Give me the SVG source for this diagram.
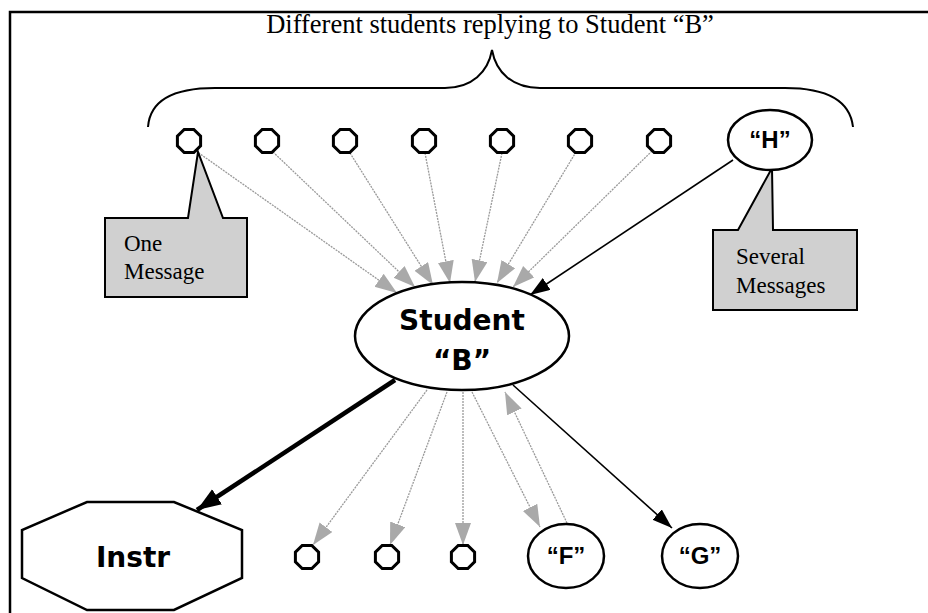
<svg xmlns="http://www.w3.org/2000/svg" width="928" height="613" viewBox="0 0 928 613">
  <style>
    .frame { fill: none; stroke: #000; stroke-width: 2.5; }
    .brace { fill: none; stroke: #000; stroke-width: 2; }
    .title { font-family: "Liberation Serif", "Times New Roman", serif; font-size: 26.5px; fill: #000; }
    .note { fill: #d0d0d0; stroke: #000; stroke-width: 2; }
    .note-text { font-family: "Liberation Serif", "Times New Roman", serif; font-size: 23px; fill: #000; }
    .dot { fill: #fff; stroke: #000; stroke-width: 3; }
    .oval { fill: #fff; stroke: #000; stroke-width: 2.5; }
    .big-label { font-family: "DejaVu Sans", Verdana, sans-serif; font-weight: bold; font-size: 28px; fill: #000; text-anchor: middle; }
    .small-label { font-family: "Liberation Sans", Arial, sans-serif; font-weight: bold; font-size: 24px; fill: #000; text-anchor: middle; }
    .reply { fill: none; stroke: #9a9a9a; stroke-width: 1.3; stroke-dasharray: 2 1; marker-end: url(#grayHead); }
    .strong { fill: none; stroke: #000; stroke-width: 1.6; marker-end: url(#blackHead); }
    .heavy { fill: none; stroke: #000; stroke-width: 4.5; marker-end: url(#heavyHead); }
  </style>
  <defs>
    <marker id="grayHead" markerUnits="userSpaceOnUse" markerWidth="24" markerHeight="18" refX="22" refY="8" orient="auto">
      <path d="M0,0 L22,8 L0,16 Z" fill="#a9a9a9"/>
    </marker>
    <marker id="blackHead" markerUnits="userSpaceOnUse" markerWidth="22" markerHeight="16" refX="20" refY="7" orient="auto">
      <path d="M0,0 L20,7 L0,14 Z" fill="#000"/>
    </marker>
    <marker id="heavyHead" markerUnits="userSpaceOnUse" markerWidth="26" markerHeight="20" refX="24" refY="9" orient="auto">
      <path d="M0,0 L24,9 L0,18 Z" fill="#000"/>
    </marker>
    <!-- small message node: an octagonal ring -->
    <path id="msg" d="M-4.8,-11.6 L4.8,-11.6 L11.6,-4.8 L11.6,4.8 L4.8,11.6 L-4.8,11.6 L-11.6,4.8 L-11.6,-4.8 Z"/>
  </defs>

  <rect width="928" height="613" fill="#fff"/>
  <rect class="frame" x="10" y="12" width="930" height="620"/>

  <text class="title" x="490" y="33" text-anchor="middle">Different students replying to Student “B”</text>
  <path class="brace" d="M148,127 C150,100 175,88 215,88 L445,88 C472,88 488,72 492,50 C496,72 512,88 540,88 L785,88 C825,88 850,100 853,127"/>

  <g id="connectors">
    <!-- replies into Student B -->
    <path class="reply" d="M196,151 L397,293"/>
    <path class="reply" d="M273,152 L415,287"/>
    <path class="reply" d="M350,153 L433,285"/>
    <path class="reply" d="M425,153 L450,283"/>
    <path class="reply" d="M502,153 L475,282"/>
    <path class="reply" d="M576,152 L497,283"/>
    <path class="reply" d="M652,151 L513,287"/>
    <path class="strong" d="M733,160 L530,295"/>
    <!-- replies from Student B -->
    <path class="heavy" d="M395,380 L197,510"/>
    <path class="reply" d="M427,390 L313,545"/>
    <path class="reply" d="M447,392 L390,545"/>
    <path class="reply" d="M463,392 L463,545"/>
    <path class="reply" d="M472,392 L540,527"/>
    <path class="reply" d="M567,523 L505,392"/>
    <path class="strong" d="M513,385 L672,528"/>
  </g>

  <g id="note-one">
    <path class="note" d="M105,218 H188 L198,152 L223,218 H247 V297 H105 Z"/>
    <text class="note-text" x="124" y="251">One</text>
    <text class="note-text" x="124" y="279">Message</text>
  </g>
  <g id="note-several">
    <path class="note" d="M713,230 H738 L772,168 L773,230 H857 V310 H713 Z"/>
    <text class="note-text" x="736" y="264">Several</text>
    <text class="note-text" x="736" y="293">Messages</text>
  </g>

  <g id="s1"><use href="#msg" class="dot" x="189" y="141"/></g>
  <g id="s2"><use href="#msg" class="dot" x="267" y="141"/></g>
  <g id="s3"><use href="#msg" class="dot" x="345" y="141"/></g>
  <g id="s4"><use href="#msg" class="dot" x="424" y="141"/></g>
  <g id="s5"><use href="#msg" class="dot" x="502" y="141"/></g>
  <g id="s6"><use href="#msg" class="dot" x="580" y="141"/></g>
  <g id="s7"><use href="#msg" class="dot" x="659" y="141"/></g>
  <g id="studentH">
    <ellipse class="oval" cx="770" cy="140" rx="42" ry="30"/>
    <text class="small-label" x="770" y="148">“H”</text>
  </g>

  <g id="studentB">
    <ellipse class="oval" cx="462" cy="336" rx="107" ry="54"/>
    <text class="big-label" x="462" y="330">Student</text>
    <text class="big-label" x="462" y="370">“B”</text>
  </g>

  <g id="instr">
    <path class="oval" d="M87,502 L174,502 L242,530 L242,578 L174,610 L87,610 L22,578 L22,530 Z"/>
    <text class="big-label" x="133" y="567">Instr</text>
  </g>

  <g id="r1"><use href="#msg" class="dot" x="307" y="557"/></g>
  <g id="r2"><use href="#msg" class="dot" x="387" y="557"/></g>
  <g id="r3"><use href="#msg" class="dot" x="463" y="557"/></g>
  <g id="studentF">
    <ellipse class="oval" cx="566" cy="556" rx="38" ry="32"/>
    <text class="small-label" x="566" y="564">“F”</text>
  </g>
  <g id="studentG">
    <ellipse class="oval" cx="700" cy="556" rx="38" ry="32"/>
    <text class="small-label" x="700" y="564">“G”</text>
  </g>
</svg>
